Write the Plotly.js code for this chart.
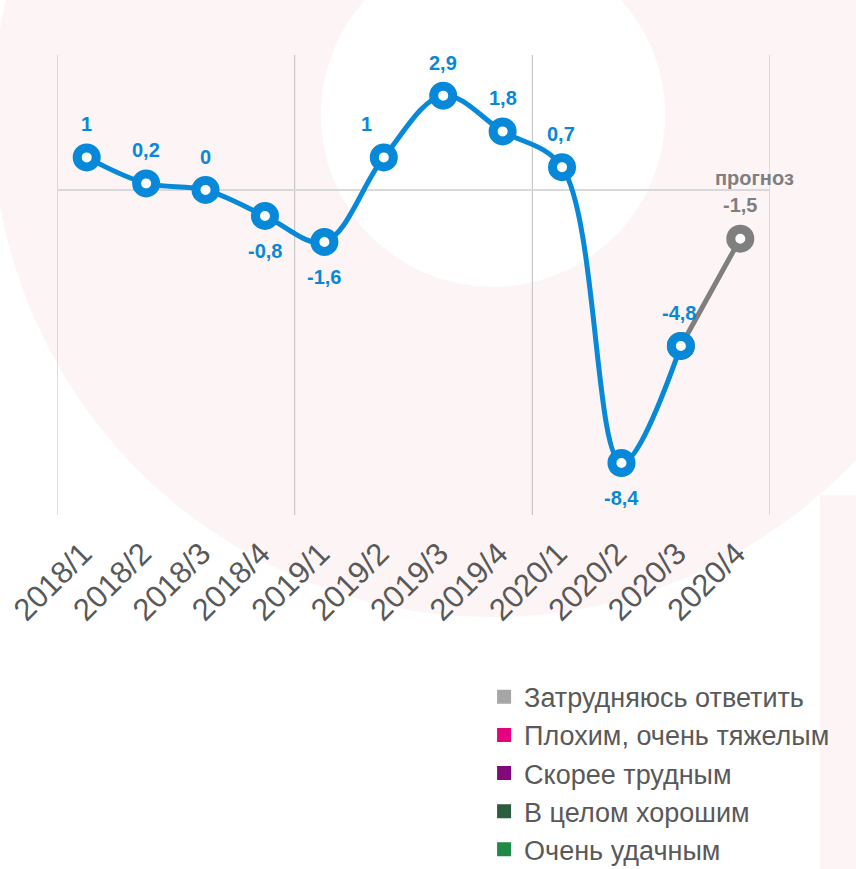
<!DOCTYPE html>
<html><head><meta charset="utf-8">
<script src="https://cdn.plot.ly/plotly-3.0.1.min.js"></script>
<style>html,body{margin:0;padding:0;background:#fff}#chart{width:856px;height:869px}</style>
</head><body><div id="chart"></div>
<script>
// ---- data ----
const categories = ['2018/1','2018/2','2018/3','2018/4','2019/1','2019/2','2019/3','2019/4','2020/1','2020/2','2020/3','2020/4'];
const actualValues = [1, 0.2, 0, -0.8, -1.6, 1, 2.9, 1.8, 0.7, -8.4, -4.8];
const forecastCategories = ['2020/3','2020/4'];
const forecastValues = [-4.8, -1.5];
const forecastNote = 'прогноз';
const legendNames = ['Затрудняюсь ответить','Плохим, очень тяжелым','Скорее трудным','В целом хорошим','Очень удачным'];
const legendColors = ['#a6a6a6','#e4007f','#82097c','#2a5e3c','#1f8a45'];

// ---- style ----
const BLUE = '#0788d8', GRAY = '#7f7f7f', TXT = '#595959';
const labelBelow = [false,false,false,true,true,false,false,false,false,true,false];
const labelXShift = [0,0,0,0,0,-17,0,0,-1,0,-2];
const fmt = v => String(v).replace('.', ',');
const LBLFONT = 'Liberation Sans, Arial, sans-serif';

const traces = [];
traces.push({x: forecastCategories, y: forecastValues, type:'scatter', mode:'lines+markers',
  line:{color:GRAY, width:5}, marker:{size:19, color:'#fff', line:{color:GRAY, width:9}},
  showlegend:false, hoverinfo:'skip', cliponaxis:false});
traces.push({x: categories.slice(0, actualValues.length), y: actualValues, type:'scatter', mode:'lines+markers',
  line:{color:BLUE, width:5, shape:'spline', smoothing:1}, marker:{size:19, color:'#fff', line:{color:BLUE, width:9}},
  showlegend:false, hoverinfo:'skip', cliponaxis:false});
legendNames.forEach((n,i)=>{
  traces.push({x:[null], y:[null], type:'bar', name:n, legendgroup:'g'+i,
    marker:{color:legendColors[i], line:{color:legendColors[i], width:2}}, showlegend:true});
});

const annotations = [];
actualValues.forEach((v,i)=>{
  annotations.push({x: categories[i], y: v, text: fmt(v), showarrow:false,
    yshift: labelBelow[i] ? -35 : 33, xshift: labelXShift[i],
    font:{family:LBLFONT, size:20, color:BLUE, weight:'bold'}});
});
const fc = forecastValues[forecastValues.length-1];
const fx = forecastCategories[forecastCategories.length-1];
annotations.push({x: fx, y: fc, text: fmt(fc), showarrow:false, yshift:34,
  font:{family:LBLFONT, size:20, color:GRAY, weight:'bold'}});
annotations.push({x: fx, y: fc, text: forecastNote, showarrow:false, yshift:61, xshift:14,
  font:{family:LBLFONT, size:20, color:GRAY, weight:'bold'}});

const shapes = [];
// faint background emblem (paper coords)
const PINK = '#fdf5f5';
shapes.push({type:'circle', xref:'paper', yref:'paper', x0:-0.091, x1:1.311, y0:-0.222, y1:1.952,
  fillcolor:PINK, line:{width:0}, layer:'below'});
shapes.push({type:'circle', xref:'paper', yref:'paper', x0:0.370, x1:0.853, y0:0.496, y1:1.243,
  fillcolor:'#ffffff', line:{width:0}, layer:'below'});
shapes.push({type:'rect', xref:'paper', yref:'paper', x0:1.070, x1:1.13, y0:-0.78, y1:0.043,
  fillcolor:PINK, line:{width:0}, layer:'below'});
// year separators
for (let i = 0; i <= categories.length; i += 4) {
  shapes.push({type:'line', xref:'x', yref:'paper', x0:i-0.5, x1:i-0.5, y0:0, y1:1,
    line:{color:'#bfbfbf', width:1}, layer:'below'});
}

const layout = {
  width:856, height:869,
  margin:{l:57, r:86, t:55, b:354, autoexpand:false},
  paper_bgcolor:'#ffffff', plot_bgcolor:'rgba(0,0,0,0)',
  font:{family:'Liberation Sans, Arial, sans-serif', color:TXT},
  showlegend:true,
  legend:{x:0.599, y:-0.343, xanchor:'left', yanchor:'top', font:{size:27, color:TXT},
    bgcolor:'rgba(0,0,0,0)', itemwidth:30, tracegroupgap:4, traceorder:'normal'},
  xaxis:{type:'category', categoryarray:categories, categoryorder:'array', range:[-0.5, categories.length-0.5],
    showgrid:false, zeroline:false, showline:false, ticks:'', ticklabelstandoff:13, ticklabelshift:-4,
    tickangle:-45, tickfont:{size:31, color:TXT}, fixedrange:true, automargin:false},
  yaxis:{range:[-10, 4.15], showgrid:false, showticklabels:false, ticks:'', zeroline:true,
    zerolinecolor:'#d9d9d9', zerolinewidth:2.5, showline:false, fixedrange:true},
  annotations, shapes
};
Plotly.newPlot('chart', traces, layout, {displayModeBar:false, staticPlot:true});
</script></body></html>
